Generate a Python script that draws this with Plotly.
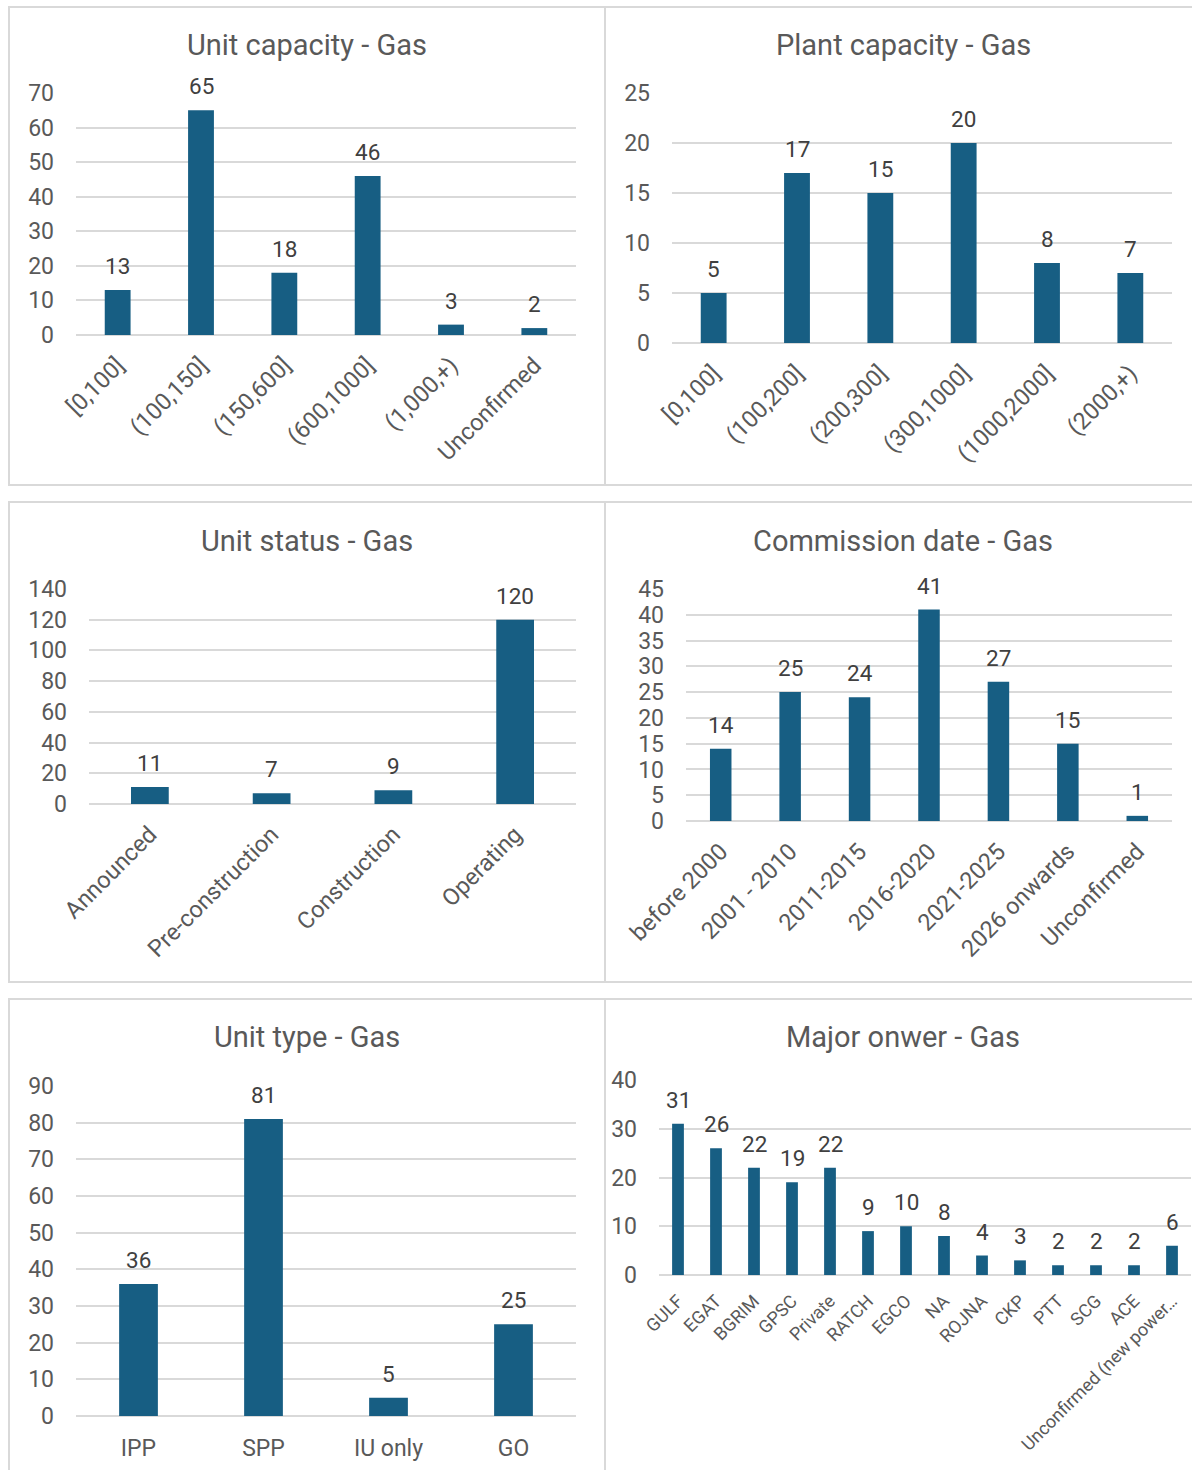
import plotly.graph_objects as go

# ---- data ----
unit_cap_labels = ["[0,100]", "(100,150]", "(150,600]", "(600,1000]", "(1,000,+)", "Unconfirmed"]
unit_cap_values = [13, 65, 18, 46, 3, 2]

plant_cap_labels = ["[0,100]", "(100,200]", "(200,300]", "(300,1000]", "(1000,2000]", "(2000,+)"]
plant_cap_values = [5, 17, 15, 20, 8, 7]

status_labels = ["Announced", "Pre-construction", "Construction", "Operating"]
status_values = [11, 7, 9, 120]

commission_labels = ["before 2000", "2001 - 2010", "2011-2015", "2016-2020",
                     "2021-2025", "2026 onwards", "Unconfirmed"]
commission_values = [14, 25, 24, 41, 27, 15, 1]

type_labels = ["IPP", "SPP", "IU only", "GO"]
type_values = [36, 81, 5, 25]

owner_labels = ["GULF", "EGAT", "BGRIM", "GPSC", "Private", "RATCH", "EGCO", "NA",
                "ROJNA", "CKP", "PTT", "SCG", "ACE", "Unconfirmed (new power\u2026"]
owner_values = [31, 26, 22, 19, 22, 9, 10, 8, 4, 3, 2, 2, 2, 6]

titles = ["Unit capacity - Gas", "Plant capacity - Gas", "Unit status - Gas",
          "Commission date - Gas", "Unit type - Gas", "Major onwer - Gas"]

# ---- layout geometry (pixels) ----
W, H = 1192, 1470
BAR = "#175e83"
GRID = "#d9d9d9"
TXT = "#595959"
LBL = "#404040"
FONT = "Roboto"


def px_x(a, b):
    return [a / W, b / W]


def px_y(top, bottom):
    return [1 - bottom / H, 1 - top / H]


panels = [
    dict(labels=unit_cap_labels, values=unit_cap_values, x=(76, 576), y=(93, 335),
         rng=70, dtick=10, angle=-45, xfont=23.5, title_xy=(307, 45)),
    dict(labels=plant_cap_labels, values=plant_cap_values, x=(672, 1172), y=(93, 343),
         rng=25, dtick=5, angle=-45, xfont=23.5, title_xy=(903, 45)),
    dict(labels=status_labels, values=status_values, x=(89, 576), y=(589, 804),
         rng=140, dtick=20, angle=-45, xfont=23.5, title_xy=(307, 541)),
    dict(labels=commission_labels, values=commission_values, x=(686, 1172), y=(589, 821),
         rng=45, dtick=5, angle=-45, xfont=23.5, title_xy=(903, 541)),
    dict(labels=type_labels, values=type_values, x=(76, 576), y=(1086, 1416),
         rng=90, dtick=10, angle=0, xfont=23, title_xy=(307, 1037)),
    dict(labels=owner_labels, values=owner_values, x=(659, 1191), y=(1080, 1275),
         rng=40, dtick=10, angle=-45, xfont=18, title_xy=(903, 1037)),
]

fig = go.Figure()
layout = dict(
    width=W, height=H,
    margin=dict(l=0, r=0, t=0, b=0, pad=0, autoexpand=False),
    paper_bgcolor="white", plot_bgcolor="white",
    showlegend=False,
    bargap=0.69,
    font=dict(family=FONT, color=TXT),
    annotations=[], shapes=[],
)

for i, (p, title) in enumerate(zip(panels, titles), start=1):
    sfx = "" if i == 1 else str(i)
    fig.add_trace(go.Bar(
        x=p["labels"], y=p["values"],
        xaxis="x" + sfx, yaxis="y" + sfx,
        marker=dict(color=BAR, line=dict(width=0)),
        cliponaxis=False,
        hoverinfo="skip",
    ))
    # value labels above each bar
    for lab, val in zip(p["labels"], p["values"]):
        layout["annotations"].append(dict(
            xref="x" + sfx, yref="y" + sfx, x=lab, y=val,
            xanchor="center", yanchor="bottom", yshift=9, showarrow=False,
            text=str(val), font=dict(family=FONT, size=22.5, color=LBL),
        ))
    layout["xaxis" + sfx] = dict(
        domain=px_x(*p["x"]), anchor="y" + sfx,
        type="category", tickangle=p["angle"], automargin=False,
        tickfont=dict(family=FONT, size=p["xfont"], color=TXT),
        showgrid=False, showline=False, ticks="",
        ticklabelstandoff=11 if p["angle"] else 16,
    )
    layout["yaxis" + sfx] = dict(
        domain=px_y(*p["y"]), anchor="x" + sfx, automargin=False,
        range=[0, p["rng"]], dtick=p["dtick"], tick0=0,
        tickfont=dict(family=FONT, size=23, color=TXT),
        showgrid=True, gridcolor=GRID, gridwidth=1.5,
        zeroline=True, zerolinecolor=GRID, zerolinewidth=1.5,
        showline=False, ticks="", ticklabelstandoff=21,
    )
    tx, ty = p["title_xy"]
    layout["annotations"].append(dict(
        xref="paper", yref="paper", x=tx / W, y=1 - ty / H,
        xanchor="center", yanchor="middle", showarrow=False,
        text=title, font=dict(family=FONT, size=29, color=TXT),
    ))

# panel frames
frames = [
    (9, 605, 7, 485), (605, 1215, 7, 485),
    (9, 605, 502, 982), (605, 1215, 502, 982),
    (9, 605, 999, 1490), (605, 1215, 999, 1490),
]
for x0, x1, y0, y1 in frames:
    layout["shapes"].append(dict(
        type="rect", xref="paper", yref="paper",
        x0=x0 / W, x1=x1 / W, y0=1 - y1 / H, y1=1 - y0 / H,
        line=dict(color=GRID, width=2), fillcolor="rgba(0,0,0,0)", layer="below",
    ))

fig.update_layout(**layout)
fig.write_html("out.html")
